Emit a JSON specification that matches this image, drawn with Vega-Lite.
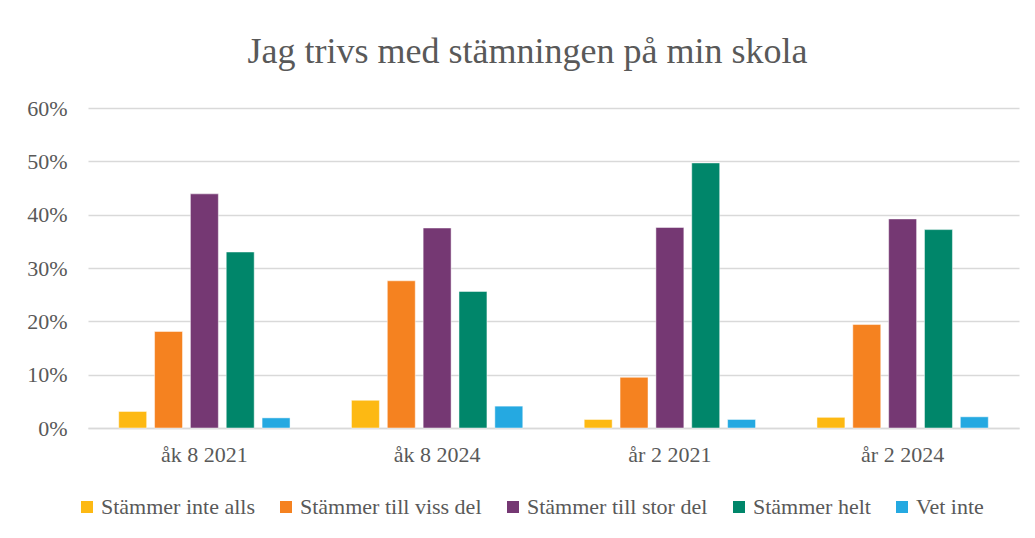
{
  "$schema": "https://vega.github.io/schema/vega-lite/v6.json",
  "width": 931,
  "height": 320,
  "autosize": "none",
  "padding": {"left": 88, "top": 108, "right": 16, "bottom": 110},
  "background": "#ffffff",
  "title": {
    "text": "Jag trivs med stämningen på min skola",
    "font": "Liberation Serif",
    "fontSize": 36,
    "fontWeight": "normal",
    "color": "#595959",
    "anchor": "middle",
    "dx": -26,
    "offset": 26
  },
  "data": {
    "values": [
      {"grupp": "åk 8 2021", "svar": "Stämmer inte alls", "andel": 0.031},
      {"grupp": "åk 8 2021", "svar": "Stämmer till viss del", "andel": 0.181},
      {"grupp": "åk 8 2021", "svar": "Stämmer till stor del", "andel": 0.439},
      {"grupp": "åk 8 2021", "svar": "Stämmer helt", "andel": 0.330},
      {"grupp": "åk 8 2021", "svar": "Vet inte", "andel": 0.019},
      {"grupp": "åk 8 2024", "svar": "Stämmer inte alls", "andel": 0.052},
      {"grupp": "åk 8 2024", "svar": "Stämmer till viss del", "andel": 0.276},
      {"grupp": "åk 8 2024", "svar": "Stämmer till stor del", "andel": 0.375},
      {"grupp": "åk 8 2024", "svar": "Stämmer helt", "andel": 0.256},
      {"grupp": "åk 8 2024", "svar": "Vet inte", "andel": 0.041},
      {"grupp": "år 2 2021", "svar": "Stämmer inte alls", "andel": 0.016},
      {"grupp": "år 2 2021", "svar": "Stämmer till viss del", "andel": 0.095},
      {"grupp": "år 2 2021", "svar": "Stämmer till stor del", "andel": 0.376},
      {"grupp": "år 2 2021", "svar": "Stämmer helt", "andel": 0.497},
      {"grupp": "år 2 2021", "svar": "Vet inte", "andel": 0.016},
      {"grupp": "år 2 2024", "svar": "Stämmer inte alls", "andel": 0.020},
      {"grupp": "år 2 2024", "svar": "Stämmer till viss del", "andel": 0.194},
      {"grupp": "år 2 2024", "svar": "Stämmer till stor del", "andel": 0.392},
      {"grupp": "år 2 2024", "svar": "Stämmer helt", "andel": 0.372},
      {"grupp": "år 2 2024", "svar": "Vet inte", "andel": 0.021}
    ]
  },
  "mark": {"type": "bar", "stroke": "#ffffff", "strokeWidth": 0.8, "strokeOpacity": 0.6},
  "encoding": {
    "x": {
      "field": "grupp",
      "type": "nominal",
      "sort": null,
      "scale": {"paddingInner": 0.23, "paddingOuter": 0.115},
      "axis": {
        "title": null,
        "labelAngle": 0,
        "labelFont": "Liberation Serif",
        "labelFontSize": 22,
        "labelColor": "#595959",
        "labelPadding": 16,
        "ticks": false,
        "domainColor": "#d9d9d9",
        "domainWidth": 1.5
      }
    },
    "xOffset": {
      "field": "svar",
      "type": "nominal",
      "sort": null,
      "scale": {"paddingInner": 0.22, "paddingOuter": 0.11}
    },
    "y": {
      "field": "andel",
      "type": "quantitative",
      "scale": {"domain": [0, 0.6], "nice": false},
      "axis": {
        "title": null,
        "format": ".0%",
        "values": [0, 0.1, 0.2, 0.3, 0.4, 0.5, 0.6],
        "labelFont": "Liberation Serif",
        "labelFontSize": 22,
        "labelColor": "#595959",
        "labelPadding": 21,
        "ticks": false,
        "domain": false,
        "gridColor": "#d9d9d9",
        "gridWidth": 1.5
      }
    },
    "color": {
      "field": "svar",
      "type": "nominal",
      "sort": null,
      "scale": {
        "domain": ["Stämmer inte alls", "Stämmer till viss del", "Stämmer till stor del", "Stämmer helt", "Vet inte"],
        "range": ["#fdb913", "#f58220", "#753873", "#00866a", "#25a9e1"]
      },
      "legend": {
        "title": null,
        "orient": "none",
        "legendX": -12,
        "legendY": 388,
        "direction": "horizontal",
        "symbolType": "square",
        "symbolSize": 144,
        "symbolStrokeWidth": 0,
        "labelFont": "Liberation Serif",
        "labelFontSize": 22,
        "labelLimit": 500,
        "labelColor": "#595959",
        "labelOffset": 3,
        "columnPadding": 20
      }
    }
  },
  "config": {"view": {"stroke": null}}
}
